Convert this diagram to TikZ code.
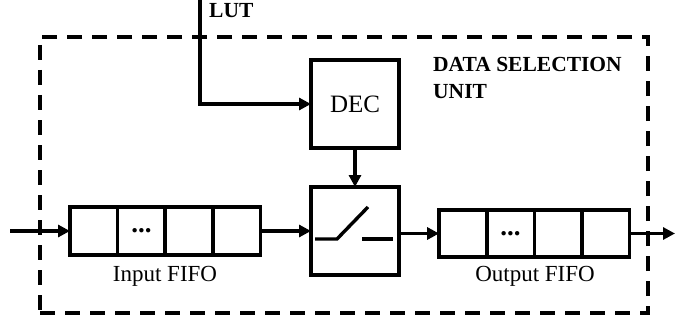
\documentclass[tikz,border=0pt]{standalone}
\usepackage{fontspec}
\setmainfont{Liberation Serif}
\usetikzlibrary{arrows.meta}
\begin{document}
\begin{tikzpicture}[x=1pt,y=-1pt,
  unitbox/.style={draw,line width=3.6pt,dash pattern=on 15pt off 10pt,minimum width=608pt,minimum height=276pt,inner sep=0pt,outer sep=0pt},
  blk/.style={draw,line width=3.6pt,minimum width=88pt,minimum height=88pt,inner sep=0pt,outer sep=0pt,font=\fontsize{25}{30}\selectfont},
  cell/.style={draw,line width=3.6pt,minimum width=47.6pt,minimum height=47.5pt,inner sep=0pt,outer sep=0pt},
  dots/.style={inner sep=0pt,font=\fontsize{27}{30}\selectfont\bfseries},
  conn/.style={line width=3.3pt,-{Triangle[length=12pt,width=12pt]}},
  lbl/.style={inner sep=0pt,font=\fontsize{23}{27}\selectfont},
  blbl/.style={inner sep=0pt,font=\fontsize{21.5}{27}\selectfont\bfseries,align=left}
]
\useasboundingbox (0,0) rectangle (675,321);
\node[unitbox] (unit) at (344,175) {};
% DEC and switch
\node[blk] (dec) at (355,104) {DEC};
\node[blk] (sw) at (355,231) {};
\draw[line width=3.4pt] (315,239) -- (337,239) -- (368,207);
\draw[line width=3.4pt] (362,239) -- (393,239);
% input FIFO
\node[cell] (in1) at (93.8,231) {};
\node[cell] (in2) at (141.4,231) {};
\node[cell] (in3) at (189,231) {};
\node[cell] (in4) at (236.6,231) {};
\node[dots] (indots) at (in2) {...};
\node[lbl,anchor=base] (inlbl) at (165,281) {Input FIFO};
% output FIFO
\node[cell] (out1) at (462.9,233.5) {};
\node[cell] (out2) at (510.5,233.5) {};
\node[cell] (out3) at (558.1,233.5) {};
\node[cell] (out4) at (605.7,233.5) {};
\node[dots] (outdots) at (out2) {...};
\node[lbl,anchor=base] (outlbl) at (535,281) {Output FIFO};
% texts
\node[blbl,anchor=base west] (lut) at (209,18) {LUT};
\node[blbl,anchor=north west] (dsu) at (433,57) {DATA SELECTION\\UNIT};
% connectors
\coordinate (lutTop) at (200,0);
\coordinate (inA) at (10,231);
\coordinate (outA) at (675,233.5);
\draw[conn] (lutTop) |- (dec.west);
\draw[conn] (dec.south) -- (sw.north);
\draw[conn] (inA) -- (in1.west);
\draw[conn] (in4.east) -- (sw.west);
\draw[conn] (sw.east |- out1) -- (out1.west);
\draw[conn] (out4.east) -- (outA);
\end{tikzpicture}
\end{document}
